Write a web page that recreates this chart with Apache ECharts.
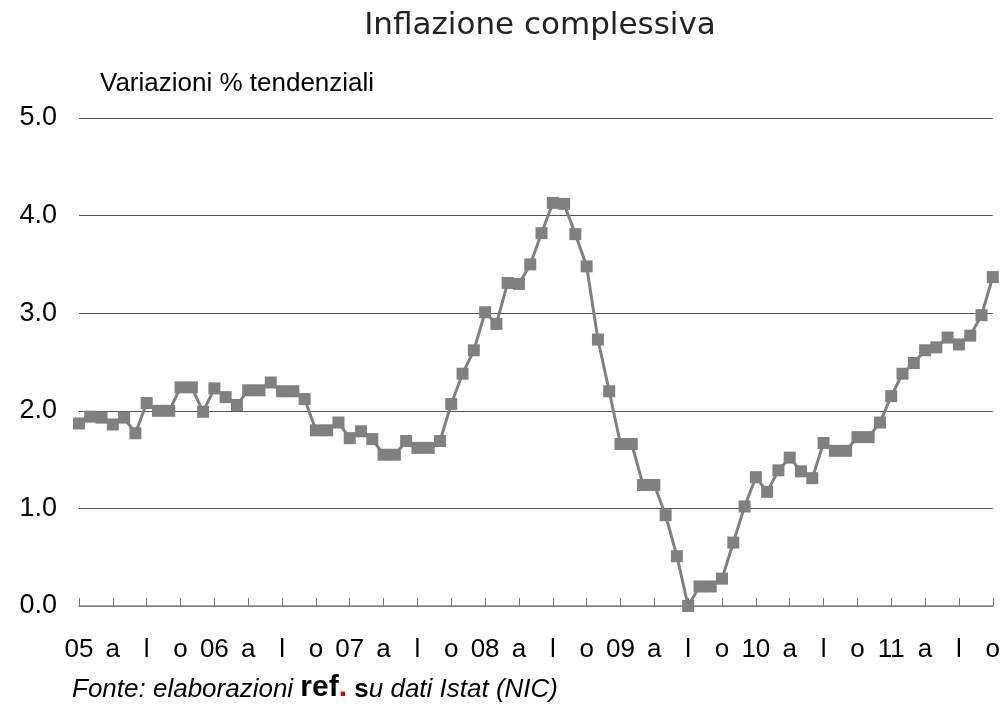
<!DOCTYPE html>
<html><head><meta charset="utf-8">
<script src="https://cdn.jsdelivr.net/npm/echarts@6/dist/echarts.min.js"></script>
<style>html,body{margin:0;padding:0;background:#fff}#c{width:1003px;height:706px}</style>
</head><body><div id="c"></div>
<script>
// Monthly categories Jan 2005 .. Oct 2011
const years = [2005, 2006, 2007, 2008, 2009, 2010, 2011];
const categories = [];
years.forEach(y => { for (let m = 1; m <= 12; m++) { if (y === 2011 && m > 10) break; categories.push(y + '-' + String(m).padStart(2, '0')); } });

// Quarterly tick labels (every 3rd month)
const tickLabels = ['05','a','l','o','06','a','l','o','07','a','l','o','08','a','l','o','09','a','l','o','10','a','l','o','11','a','l','o'];

// Inflazione complessiva, variazioni % tendenziali
const inflation = [
  1.87, 1.94, 1.93, 1.86, 1.93, 1.77, 2.08, 2.00, 2.00, 2.24, 2.24, 1.99,
  2.23, 2.14, 2.06, 2.21, 2.21, 2.29, 2.20, 2.20, 2.12, 1.80, 1.80, 1.88,
  1.72, 1.79, 1.71, 1.55, 1.55, 1.69, 1.62, 1.62, 1.69, 2.07, 2.38, 2.62,
  3.01, 2.89, 3.31, 3.30, 3.50, 3.82, 4.13, 4.12, 3.81, 3.48, 2.73, 2.20,
  1.66, 1.66, 1.24, 1.24, 0.93, 0.51, 0.00, 0.20, 0.20, 0.28, 0.65, 1.02,
  1.32, 1.17, 1.39, 1.52, 1.38, 1.31, 1.67, 1.59, 1.59, 1.73, 1.73, 1.88,
  2.15, 2.38, 2.49, 2.62, 2.65, 2.75, 2.68, 2.77, 2.98, 3.37
];

const chart = echarts.init(document.getElementById('c'), null, {renderer: 'canvas'});
chart.setOption({
  animation: false,
  backgroundColor: '#fff',
  title: {
    text: 'Inflazione complessiva',
    left: 535, top: 5, textAlign: 'center',
    textStyle: {fontFamily: 'DejaVu Sans', fontSize: 31, fontWeight: 'normal', color: '#222'}
  },
  grid: {left: 79, right: 10, top: 118, bottom: 100},
  xAxis: {
    type: 'category', data: categories, boundaryGap: false,
    axisLine: {lineStyle: {color: '#888', width: 1.5}},
    axisTick: {inside: true, length: 8, interval: (i) => i % 3 === 0, lineStyle: {color: '#777'}},
    axisLabel: {
      interval: (i) => i % 3 === 0,
      formatter: (v, i) => tickLabels[Math.floor(i / 3)],
      fontFamily: 'Liberation Sans', fontSize: 26, color: '#000', margin: 31
    },
    splitLine: {show: false}
  },
  yAxis: {
    type: 'value', min: 0, max: 5, interval: 1,
    axisLine: {show: false}, axisTick: {show: false},
    axisLabel: {formatter: (v) => v.toFixed(1), fontFamily: 'Liberation Sans', fontSize: 27, color: '#000', margin: 22},
    splitLine: {lineStyle: {color: '#555', width: 1}}
  },
  series: [{
    type: 'line', data: inflation,
    symbol: 'rect', symbolSize: 12, showAllSymbol: true,
    lineStyle: {color: '#808080', width: 3},
    itemStyle: {color: '#808080'},
    z: 3
  }],
  graphic: [
    {type: 'text', left: 100, top: 71, style: {text: 'Variazioni % tendenziali', font: '26px "Liberation Sans"', fill: '#000'}},
    {type: 'text', left: 72, top: 673, style: {
      text: '{i|Fonte: elaborazioni }{b|ref}{r|.}{s| s}{i|u dati Istat (NIC)}',
      rich: {
        i: {fontFamily: 'Liberation Sans', fontStyle: 'italic', fontSize: 26, fill: '#000', lineHeight: 31, verticalAlign: 'bottom'},
        b: {fontFamily: 'Liberation Sans', fontWeight: 'bold', fontSize: 30, fill: '#000', lineHeight: 31, verticalAlign: 'bottom'},
        r: {fontFamily: 'Liberation Sans', fontWeight: 'bold', fontSize: 30, fill: '#e00000', lineHeight: 31, verticalAlign: 'bottom'},
        s: {fontFamily: 'Liberation Sans', fontWeight: 'bold', fontSize: 26, fill: '#000', lineHeight: 31, verticalAlign: 'bottom'}
      }
    }}
  ]
});
</script></body></html>
